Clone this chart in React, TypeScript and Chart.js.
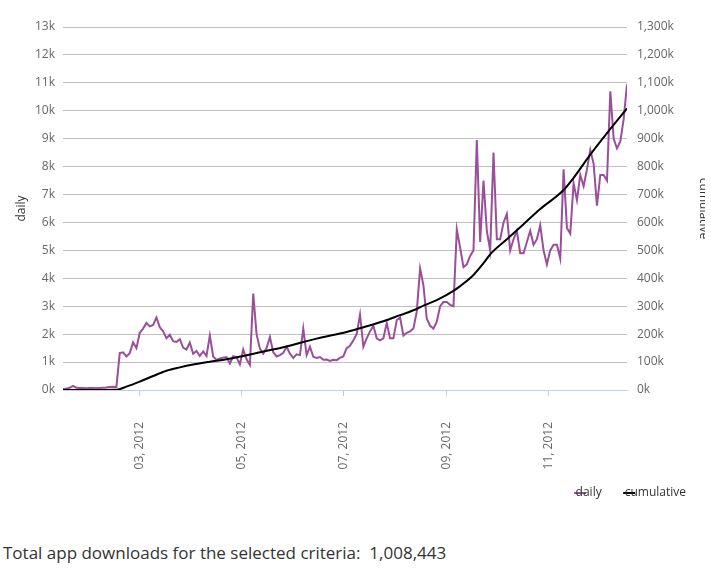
import React, { useEffect, useRef } from "react";
import { Chart, registerables } from "chart.js";

Chart.register(...registerables);

// Day-of-year index (0 = 1 Jan 2012) of the first daily value, and spacing between values
const FIRST_DAY = 14;
const DAY_STEP = 2;

// Daily downloads (one value every DAY_STEP days, from FIRST_DAY)
const dailyValues = [
  30, 50, 80, 150, 80, 70, 70, 60, 70, 70,
  60, 70, 80, 90, 110, 120, 110, 1320, 1350, 1200,
  1320, 1700, 1500, 2050, 2200, 2400, 2280, 2330, 2600, 2250,
  2100, 1850, 1980, 1750, 1720, 1820, 1520, 1450, 1700, 1300,
  1400, 1220, 1380, 1220, 1950, 1200, 1080, 1130, 1160, 1180,
  950, 1210, 1180, 920, 1450, 1100, 900, 3450, 2000, 1480,
  1300, 1500, 1900, 1350, 1200, 1250, 1330, 1550, 1300, 1150,
  1280, 1250, 2200, 1250, 1550, 1190, 1150, 1180, 1080, 1090,
  1040, 1080, 1070, 1150, 1200, 1500, 1580, 1780, 2000, 2700,
  1550, 1850, 2100, 2300, 1850, 1780, 1850, 2400, 1850, 1850,
  2500, 2600, 1950, 2050, 2100, 2200, 2800, 4350, 3750, 2550,
  2300, 2200, 2450, 3000, 3150, 3150, 3050, 3000, 5750, 5100,
  4400, 4500, 4800, 5000, 8950, 5300, 7500, 5700, 5000, 8500,
  5400, 5400, 6000, 6300, 5000, 5400, 5700, 4900, 4900, 5300,
  5700, 5200, 5400, 5900, 5000, 4500, 5000, 5200, 5200, 4700,
  7900, 5800, 5600, 7400, 6800, 7700, 7300, 7900, 8600, 8100,
  6600, 7700, 7700, 7500, 10700, 9000, 8650, 8900, 9700, 10950,
];

// Cumulative downloads, read at these days
const cumulativeDays = [
  14, 46, 52, 60, 68, 76, 84, 92, 102, 112, 122, 132, 146, 166, 184, 196, 206,
  216, 226, 230, 238, 248, 252, 260, 266, 270, 280, 290, 300, 314, 320, 330, 340, 352,
];
const cumulativeValues = [
  0, 1000, 12000, 30000, 50000, 69000, 81000, 91000, 101000, 110000, 122000, 135000,
  153000, 184000, 208000, 228000, 246000, 268000, 290000, 302000, 322000, 355000,
  372000, 412000, 454000, 486000, 540000, 594000, 648000, 716000, 760000, 843000,
  920000, 1008443,
];

const xTickDays = [60, 121, 182, 244, 305];
const xTickLabels = ["03, 2012", "05, 2012", "07, 2012", "09, 2012", "11, 2012"];

const seriesNames = ["daily", "cumulative"];
const axisTitles = ["daily", "cumulative"];
const totalLabel = "Total app downloads for the selected criteria:";
const totalValue = 1008443;

const DAILY_COLOR = "#9a4f9a";
const CUM_COLOR = "#000000";
const FONT = "'Open Sans', 'Noto Sans', sans-serif";

function makeSymbol(color: string): HTMLCanvasElement {
  const c = document.createElement("canvas");
  c.width = 36;
  c.height = 4;
  const g = c.getContext("2d");
  if (g) {
    g.fillStyle = color;
    g.fillRect(23, 1, 12, 2);
  }
  return c;
}

export default function App() {
  const canvasRef = useRef<HTMLCanvasElement>(null);

  useEffect(() => {
    const canvas = canvasRef.current;
    if (!canvas) return;
    const lastDay = FIRST_DAY + (dailyValues.length - 1) * DAY_STEP;
    const tickFont = { family: FONT, size: 12 };

    const chart = new Chart(canvas, {
      type: "line",
      data: {
        datasets: [
          {
            label: seriesNames[0],
            data: dailyValues.map((v, i) => ({ x: FIRST_DAY + i * DAY_STEP, y: v })),
            yAxisID: "y",
            borderColor: DAILY_COLOR,
            backgroundColor: DAILY_COLOR,
            borderWidth: 2,
            pointRadius: 0,
            pointHoverRadius: 0,
            pointStyle: makeSymbol(DAILY_COLOR),
            tension: 0,
            fill: false,
            order: 1,
          },
          {
            label: seriesNames[1],
            data: cumulativeDays.map((d, i) => ({ x: d, y: cumulativeValues[i] })),
            yAxisID: "y2",
            borderColor: CUM_COLOR,
            backgroundColor: CUM_COLOR,
            borderWidth: 2,
            pointRadius: 0,
            pointHoverRadius: 0,
            pointStyle: makeSymbol(CUM_COLOR),
            cubicInterpolationMode: "monotone",
            fill: false,
            order: 0,
          },
        ],
      } as any,
      options: {
        responsive: false,
        animation: false,
        devicePixelRatio: 1,
        layout: { padding: { top: 27, left: 0, right: 18, bottom: 11 } },
        plugins: {
          legend: {
            position: "bottom",
            align: "end",
            reverse: true,
            labels: {
              usePointStyle: true,
              boxWidth: 1,
              boxHeight: 12,
              padding: 16,
              color: "#333333",
              font: tickFont,
            },
          },
          tooltip: { enabled: false },
        },
        scales: {
          x: {
            type: "linear",
            min: FIRST_DAY,
            max: lastDay,
            afterBuildTicks: (axis: any) => {
              axis.ticks = xTickDays.map((v) => ({ value: v }));
            },
            afterFit: (s: any) => {
              s.height = 81;
            },
            grid: {
              drawOnChartArea: false,
              drawTicks: true,
              tickLength: 6,
              color: "#C0D0E0",
            },
            border: { color: "#C0D0E0", width: 1 },
            ticks: {
              autoSkip: false,
              minRotation: 90,
              maxRotation: 90,
              padding: 26,
              color: "#666666",
              font: tickFont,
              callback: (v: any) => {
                const i = xTickDays.indexOf(Number(v));
                return i >= 0 ? xTickLabels[i] : "";
              },
            },
          },
          y: {
            position: "left",
            min: 0,
            max: 13000,
            afterFit: (s: any) => {
              s.width = 63;
            },
            ticks: {
              stepSize: 1000,
              padding: 8,
              color: "#666666",
              font: tickFont,
              callback: (v: any) => `${Number(v) / 1000}k`,
            },
            grid: {
              drawTicks: false,
              color: (c: any) => (c.tick && c.tick.value === 0 ? "rgba(0,0,0,0)" : "#C0C0C0"),
            },
            border: { display: false },
            title: {
              display: true,
              text: axisTitles[0],
              color: "#333333",
              font: tickFont,
              padding: { top: 14, bottom: 0 },
            },
          },
          y2: {
            position: "right",
            min: 0,
            max: 1300000,
            afterFit: (s: any) => {
              s.width = 75;
            },
            ticks: {
              stepSize: 100000,
              padding: 10,
              color: "#666666",
              font: tickFont,
              callback: (v: any) => `${(Number(v) / 1000).toLocaleString("en-US")}k`,
            },
            grid: { display: false, drawTicks: false },
            border: { display: false },
            title: {
              display: true,
              text: axisTitles[1],
              color: "#333333",
              font: tickFont,
              padding: { top: -9, bottom: 0 },
            },
          },
        },
      } as any,
    });

    return () => chart.destroy();
  }, []);

  return (
    <div style={{ position: "absolute", left: 0, top: 0, width: 711, height: 577, background: "#fff" }}>
      <div style={{ position: "absolute", left: 0, top: 0, width: 705, height: 520, overflow: "hidden" }}>
        <canvas ref={canvasRef} width={720} height={520} style={{ display: "block", width: 720, height: 520 }} />
      </div>
      <div
        style={{
          position: "absolute",
          left: 3,
          top: 541,
          fontFamily: FONT,
          fontSize: 17,
          color: "#333333",
          whiteSpace: "pre",
        }}
      >
        {`${totalLabel}  ${totalValue.toLocaleString("en-US")}`}
      </div>
    </div>
  );
}
